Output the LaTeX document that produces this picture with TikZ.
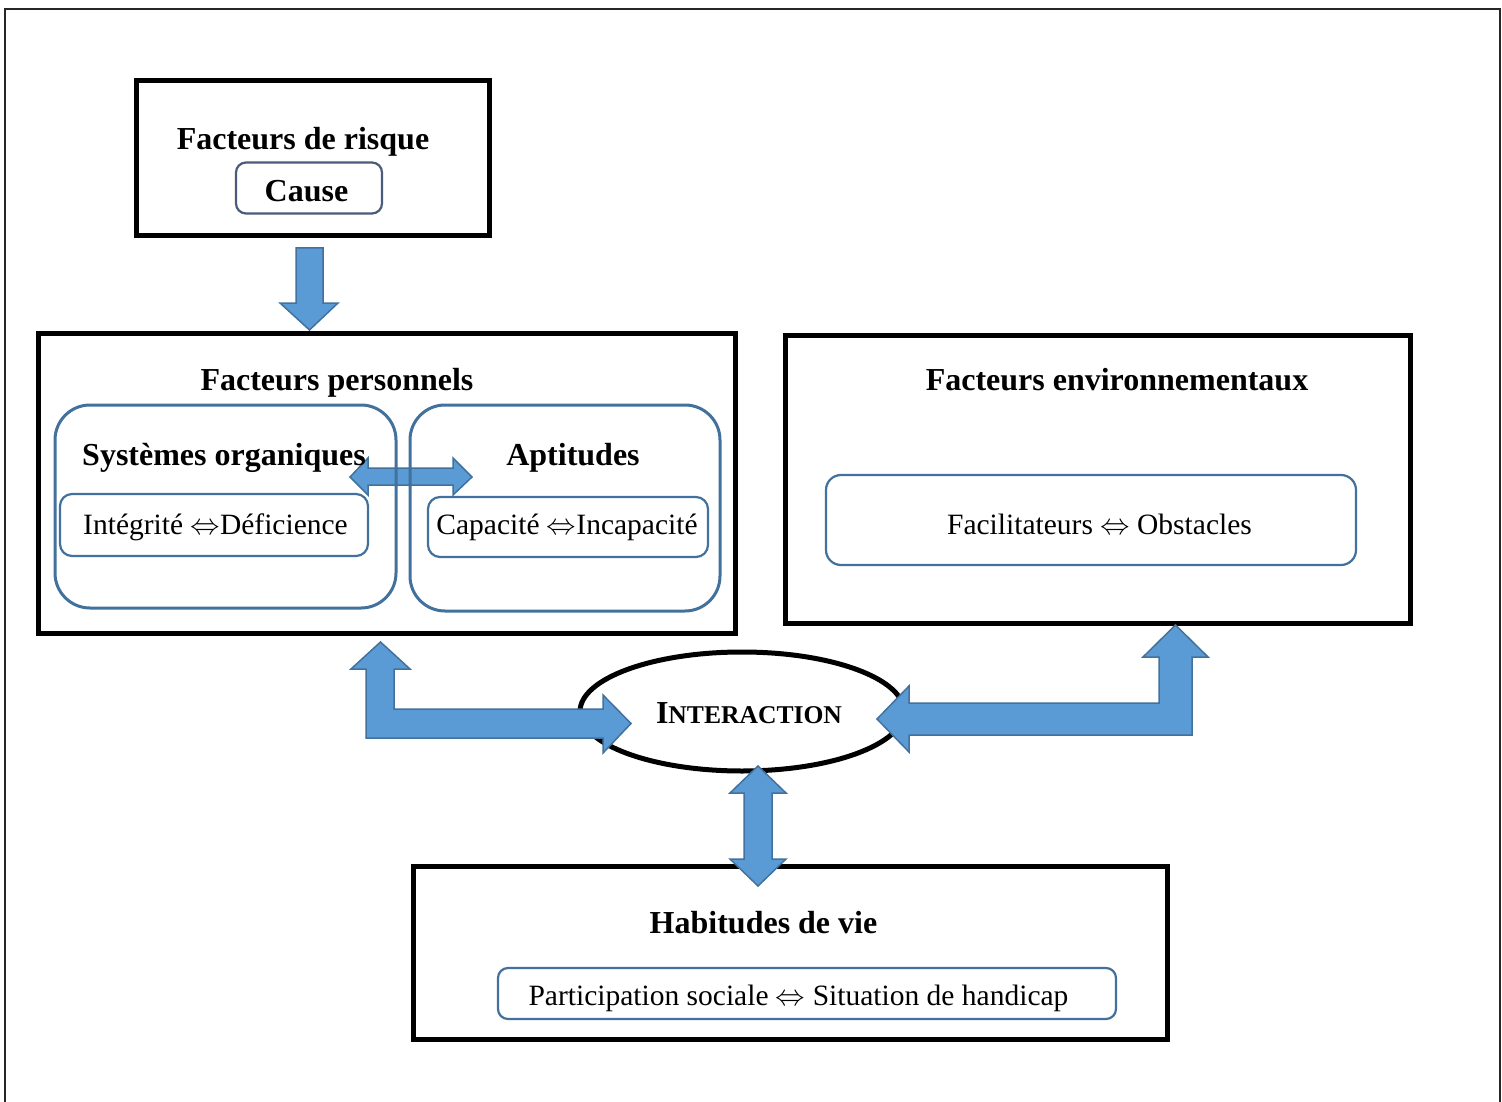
\RequirePackage{fix-cm}
\documentclass[tikz,border=0pt]{standalone}
\usepackage{fontspec}
\setmainfont{Liberation Serif}
\usetikzlibrary{shapes.geometric}
\definecolor{arrfill}{HTML}{5B9BD5}
\definecolor{arrline}{HTML}{41719C}
\definecolor{boxblue}{HTML}{41719C}
\definecolor{causeblue}{HTML}{4A5C7A}
\newcommand{\dblarr}{\ensuremath{\Leftrightarrow}}
\tikzset{
  blackbox/.style={draw=black, line width=5pt, inner sep=0pt, outer sep=0pt},
  outerrbox/.style={draw=boxblue, line width=3pt, rounded corners=35pt, inner sep=0pt, outer sep=0pt},
  innerrbox/.style={draw=boxblue, line width=2.2pt, rounded corners=12pt, inner sep=0pt, outer sep=0pt},
  blockarrow/.style={fill=arrfill, draw=arrline, line width=1.5pt, line join=miter},
  ttl/.style={font=\fontsize{32}{38}\selectfont\bfseries, anchor=base, inner sep=0pt},
  txt/.style={font=\fontsize{29.5}{35}\selectfont, anchor=base, inner sep=0pt}
}
\begin{document}
\begin{tikzpicture}[x=1pt,y=-1pt]
\useasboundingbox (0,0) rectangle (1502,1102);
\fill[white] (0,0) rectangle (1502,1102);
% outer frame
\draw[line width=2pt, draw=black!85] (5,1110) -- (5,9) -- (1500,9) -- (1500,1110);

% black boxes
\node[blackbox, minimum width=353pt, minimum height=155pt] (risk) at (312.5,158.5) {};
\node[blackbox, minimum width=696.5pt, minimum height=300pt] (perso) at (386.75,483) {};
\node[blackbox, minimum width=625pt, minimum height=287.5pt] (env) at (1097.5,479.25) {};
\node[blackbox, minimum width=754pt, minimum height=173pt] (habit) at (790,952.5) {};
\node[draw=black, line width=5pt, ellipse, inner sep=0pt, minimum width=324pt, minimum height=119pt] (inter) at (742,711.5) {};

% double arrow between the two inner boxes
\draw[blockarrow] (350,477) -- (368,458) -- (368,468) -- (453,468) -- (453,458) -- (472,477)
  -- (453,495) -- (453,485) -- (368,485) -- (368,495) -- cycle;

% rounded boxes
\node[draw=causeblue, line width=2.2pt, rounded corners=10pt, inner sep=0pt, minimum width=146pt, minimum height=51pt] (cause) at (309,188) {};
\node[outerrbox, minimum width=341pt, minimum height=203pt] (sys) at (225.5,506.5) {};
\node[outerrbox, minimum width=310pt, minimum height=206pt] (apt) at (565,508) {};
\node[innerrbox, minimum width=308pt, minimum height=62pt] (integ) at (214,525) {};
\node[innerrbox, minimum width=280pt, minimum height=60pt] (capac) at (568,527) {};
\node[innerrbox, rounded corners=15pt, minimum width=530pt, minimum height=90pt] (facil) at (1091,520) {};
\node[innerrbox, rounded corners=10pt, minimum width=618pt, minimum height=51pt] (partic) at (807,993.5) {};

% block arrows
% risk -> perso
\draw[blockarrow] (296,248) -- (323,248) -- (323,303) -- (338,303) -- (309.5,330)
  -- (280,303) -- (296,303) -- cycle;
% perso <-> interaction (bent)
\draw[blockarrow] (380.5,642) -- (410,669) -- (394,669) -- (394,709) -- (603,709) -- (603,695)
  -- (631,723.5) -- (603,753) -- (603,738) -- (366,738) -- (366,669) -- (351,669) -- cycle;
% env <-> interaction (bent)
\draw[blockarrow] (1175.5,625) -- (1208,657) -- (1192,657) -- (1192,735) -- (909,735) -- (909,752)
  -- (877,719) -- (909,686) -- (909,703) -- (1159,703) -- (1159,657) -- (1143,657) -- cycle;
% interaction <-> habitudes
\draw[blockarrow] (758,766) -- (786,793) -- (772,793) -- (772,859) -- (786,859) -- (758,886)
  -- (730,859) -- (744,859) -- (744,793) -- (730,793) -- cycle;

% texts
\node[ttl] (triskt) at (303,150) {Facteurs de risque};
\node[ttl] (tcause) at (306.5,202) {Cause};
\node[ttl] (tperso) at (337,390) {Facteurs personnels};
\node[ttl] (tsys) at (224,465) {Systèmes organiques};
\node[ttl] (tapt) at (573,465) {Aptitudes};
\node[txt] (tinteg) at (215.5,534) {Intégrité \dblarr Déficience};
\node[txt] (tcapac) at (567,534) {Capacité \dblarr Incapacité};
\node[ttl] (tenv) at (1117,390) {Facteurs environnementaux};
\node[txt] (tfacil) at (1099.5,534) {Facilitateurs \dblarr{} Obstacles};
\node[anchor=base, inner sep=0pt, font=\fontsize{32}{38}\selectfont\bfseries] (tinter) at (749,723)
  {I{\fontsize{25.6}{30}\selectfont NTERACTION}};
\node[ttl] (thabit) at (763.5,933) {Habitudes de vie};
\node[txt] (tpartic) at (798.5,1005) {Participation sociale \dblarr{} Situation de handicap};
\end{tikzpicture}
\end{document}
